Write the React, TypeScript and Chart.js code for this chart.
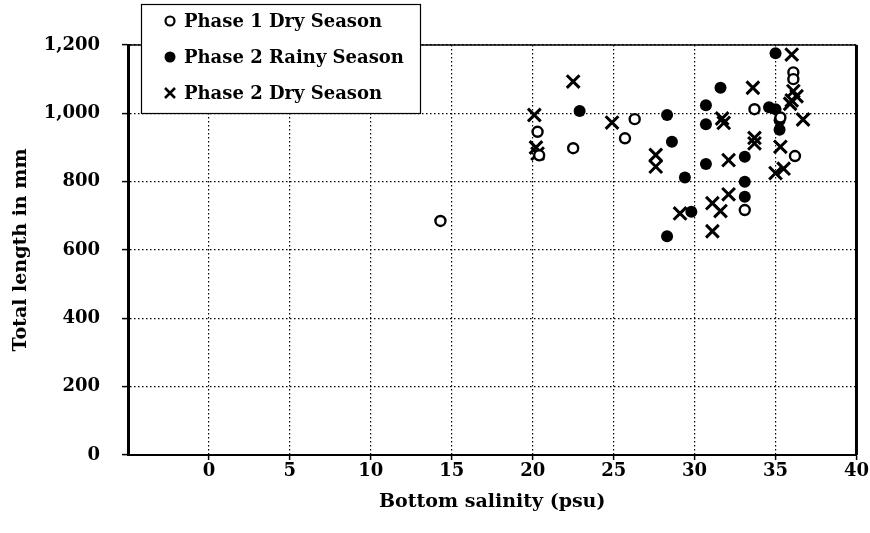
import { useEffect, useRef } from 'react';
import { Chart, registerables } from 'chart.js';

Chart.register(...registerables);

// Series names
const seriesNames = ['Phase 1 Dry Season', 'Phase 2 Rainy Season', 'Phase 2 Dry Season'];

// Phase 1, dry season: bottom salinity (psu) and total length (mm)
const phase1DrySalinity = [14.3, 20.3, 20.4, 22.5, 25.7, 26.3, 33.1, 33.7, 35.3, 36.1, 36.1, 36.2];
const phase1DryLength = [685, 946, 877, 898, 927, 983, 717, 1012, 988, 1120, 1100, 875];

// Phase 2, rainy season
const phase2RainySalinity = [22.9, 28.3, 28.6, 29.4, 28.3, 29.8, 30.7, 30.7, 30.7, 31.6, 33.1, 33.1, 33.1, 34.6, 35.0, 35.0, 35.25, 35.25];
const phase2RainyLength = [1007, 995, 917, 812, 640, 712, 1024, 968, 852, 1075, 873, 800, 756, 1018, 1012, 1176, 980, 952];

// Phase 2, dry season
const phase2DrySalinity = [20.1, 20.2, 20.3, 22.5, 24.9, 27.6, 27.6, 29.1, 31.7, 31.8, 31.1, 31.6, 32.1, 31.1, 32.1, 33.6, 33.7, 33.7, 35.3, 35.0, 35.5, 36.0, 36.1, 36.3, 36.0, 35.9, 36.7];
const phase2DryLength = [995, 900, 882, 1093, 973, 878, 844, 707, 985, 972, 737, 714, 763, 655, 863, 1075, 928, 912, 902, 825, 838, 1172, 1065, 1050, 1038, 1028, 982];

// Axis ticks
const xTicks = [0, 5, 10, 15, 20, 25, 30, 35, 40];
const yTicks = [0, 200, 400, 600, 800, 1000, 1200];

const FONT = '"DejaVu Serif", "Liberation Serif", serif';

const pairs = (xs: number[], ys: number[]) => xs.map((x, i) => ({ x, y: ys[i] }));

function drawLegendMarker(ctx: CanvasRenderingContext2D, kind: number, x: number, y: number) {
  ctx.save();
  ctx.strokeStyle = '#000';
  ctx.fillStyle = '#000';
  if (kind === 0) {
    ctx.lineWidth = 2.2;
    ctx.beginPath();
    ctx.arc(x, y, 4.5, 0, Math.PI * 2);
    ctx.stroke();
  } else if (kind === 1) {
    ctx.beginPath();
    ctx.arc(x, y, 5.5, 0, Math.PI * 2);
    ctx.fill();
  } else {
    ctx.lineWidth = 2.5;
    ctx.beginPath();
    ctx.moveTo(x - 5, y - 5);
    ctx.lineTo(x + 5, y + 5);
    ctx.moveTo(x + 5, y - 5);
    ctx.lineTo(x - 5, y + 5);
    ctx.stroke();
  }
  ctx.restore();
}

// Solid frame on the top and right of the plot area
const framePlugin = {
  id: 'plotFrame',
  afterDatasetsDraw(chart: any) {
    const { ctx, chartArea } = chart;
    ctx.save();
    ctx.strokeStyle = '#000';
    ctx.lineWidth = 1.5;
    ctx.beginPath();
    ctx.moveTo(chartArea.left, chartArea.top);
    ctx.lineTo(chartArea.right, chartArea.top);
    ctx.stroke();
    ctx.lineWidth = 3;
    ctx.beginPath();
    ctx.moveTo(chartArea.right, chartArea.top);
    ctx.lineTo(chartArea.right, chartArea.bottom);
    ctx.stroke();
    ctx.restore();
  },
};

// Boxed legend in the upper-left corner
const boxLegendPlugin = {
  id: 'boxLegend',
  afterDraw(chart: any) {
    const ctx: CanvasRenderingContext2D = chart.ctx;
    const x0 = 141;
    const y0 = 4;
    const w = 279;
    const h = 109;
    ctx.save();
    ctx.fillStyle = '#fff';
    ctx.fillRect(x0, y0, w, h);
    ctx.strokeStyle = '#000';
    ctx.lineWidth = 1.2;
    ctx.strokeRect(x0 + 0.5, y0 + 0.5, w, h);
    ctx.font = `bold 18px ${FONT}`;
    ctx.textBaseline = 'middle';
    ctx.textAlign = 'left';
    chart.data.datasets.forEach((ds: any, i: number) => {
      const cy = 21 + i * 36;
      drawLegendMarker(ctx, i, 170, cy);
      ctx.fillStyle = '#000';
      ctx.fillText(ds.label, 184, cy + 1);
    });
    ctx.restore();
  },
};

export default function App() {
  const canvasRef = useRef<HTMLCanvasElement | null>(null);

  useEffect(() => {
    if (!canvasRef.current) return;
    const chart = new Chart(canvasRef.current, {
      type: 'scatter',
      data: {
        datasets: [
          {
            label: seriesNames[0],
            data: pairs(phase1DrySalinity, phase1DryLength),
            pointStyle: 'circle',
            pointRadius: 5,
            borderColor: '#000',
            borderWidth: 2.4,
            backgroundColor: '#fff',
          },
          {
            label: seriesNames[1],
            data: pairs(phase2RainySalinity, phase2RainyLength),
            pointStyle: 'circle',
            pointRadius: 6,
            borderColor: '#000',
            borderWidth: 0,
            backgroundColor: '#000',
          },
          {
            label: seriesNames[2],
            data: pairs(phase2DrySalinity, phase2DryLength),
            pointStyle: 'crossRot',
            pointRadius: 9,
            borderColor: '#000',
            borderWidth: 3,
            backgroundColor: '#000',
          },
        ],
      },
      options: {
        animation: false,
        responsive: true,
        maintainAspectRatio: false,
        layout: { padding: { top: 45, right: 13, left: 0, bottom: 0 } },
        plugins: {
          legend: { display: false },
          tooltip: { enabled: false },
        },
        scales: {
          x: {
            type: 'linear',
            min: -5,
            max: 40,
            afterBuildTicks: (axis: any) => {
              axis.ticks = xTicks.map((v) => ({ value: v }));
            },
            afterFit: (scale: any) => {
              scale.height = 78;
            },
            grid: {
              color: '#000',
              lineWidth: 1.2,
              drawTicks: true,
              tickLength: 5,
              tickColor: '#000',
              tickWidth: 1.5,
            },
            border: { display: true, color: '#000', width: 2, dash: [1.5, 2.5] },
            ticks: {
              color: '#000',
              font: { family: FONT, weight: 'bold', size: 18 },
              padding: 1,
              maxRotation: 0,
              autoSkip: false,
            },
            title: {
              display: true,
              text: 'Bottom salinity (psu)',
              color: '#000',
              font: { family: FONT, weight: 'bold', size: 19 },
              padding: { top: 0, bottom: 20 },
            },
          },
          y: {
            type: 'linear',
            min: 0,
            max: 1200,
            afterBuildTicks: (axis: any) => {
              axis.ticks = yTicks.map((v) => ({ value: v }));
            },
            afterFit: (scale: any) => {
              scale.width = 128;
            },
            grid: {
              color: '#000',
              lineWidth: 1.2,
              drawTicks: true,
              tickLength: 6,
              tickColor: '#000',
              tickWidth: 1.5,
            },
            border: { display: true, color: '#000', width: 3, dash: [1.5, 2.5] },
            ticks: {
              color: '#000',
              font: { family: FONT, weight: 'bold', size: 18 },
              padding: 22,
              callback: (v: any) => Number(v).toLocaleString('en-US'),
            },
            title: {
              display: true,
              text: 'Total length in mm',
              color: '#000',
              font: { family: FONT, weight: 'bold', size: 19 },
              padding: { top: 10, bottom: 0 },
            },
          },
        },
      } as any,
      plugins: [framePlugin, boxLegendPlugin],
    });
    return () => chart.destroy();
  }, []);

  return (
    <div style={{ position: 'absolute', left: 0, top: 0, width: 870, height: 533, background: '#fff' }}>
      <canvas ref={canvasRef} />
    </div>
  );
}
